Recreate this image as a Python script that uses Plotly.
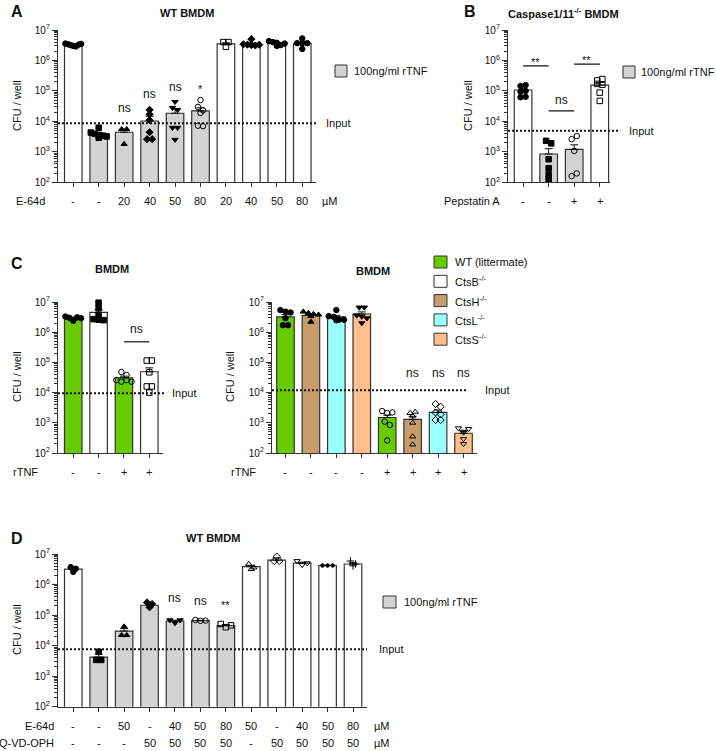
import numpy as np
import plotly.graph_objects as go

W, H = 716, 751
FONT = "Liberation Sans, Arial, sans-serif"
GREY, WHITE = "#D3D3D3", "#FFFFFF"
GREEN, BROWN, CYAN, ORANGE = "#66CC00", "#C69C6D", "#99FFFF", "#FFBE8C"
EDGE = "#333333"
INK = "#111111"

# ---------------- data ----------------
# Panel A  (WT BMDM, E-64d)
A_e64 = ["-", "-", "20", "40", "50", "80", "20", "40", "50", "80"]
A_tnf = [False, True, True, True, True, True, False, False, False, False]
A_mean = [3.3e6, 3.85e3, 4.4e3, 1.03e4, 1.85e4, 2.2e4, 3.5e6, 3.5e6, 3.7e6, 3.6e6]
A_sem = [2e5, 4.5e2, 1.2e3, 4.5e3, 7e3, 6e3, 3e5, 2.5e5, 2e5, 5e5]
A_points = [
    [3.6e6, 3.4e6, 3.2e6, 3.0e6, 2.9e6, 3.3e6, 3.5e6],
    [6.2e3, 4.3e3, 3.9e3, 3.6e3, 3.4e3, 3.2e3, 2.9e3],
    [5.5e3, 5.5e3, 1.8e3],
    [2.4e4, 1.7e4, 1.1e4, 4.4e3, 2.6e3, 2.6e3],
    [4.4e4, 2.8e4, 2.4e4, 6.2e3, 6.2e3, 2.5e3],
    [5.0e4, 3.0e4, 2.3e4, 1.9e4, 7.2e3, 7.0e3],
    [4.0e6, 4.0e6, 2.8e6],
    [5.0e6, 3.4e6, 3.3e6, 3.2e6, 3.1e6, 3.3e6],
    [4.3e6, 4.0e6, 3.8e6, 3.2e6, 3.0e6, 3.6e6],
    [5.3e6, 3.7e6, 3.7e6, 3.7e6, 2.4e6],
]
A_sym = ["circle", "square", "triangle-up", "diamond", "triangle-down",
         "circle-open", "square-open", "diamond", "circle", "circle"]
A_input = 8.7e3
A_sig = {2: ("ns", 2.65e4), 3: ("ns", 7.8e4), 4: ("ns", 1.3e5), 5: ("*", 1.15e5)}

# Panel B  (Caspase1/11-/- BMDM, Pepstatin A)
B_pep = ["-", "-", "+", "+"]
B_tnf = [False, True, True, False]
B_mean = [1.07e5, 8.5e2, 1.2e3, 1.55e5]
B_sem = [1.5e4, 4.2e2, 5.0e2, 3.5e4]
B_points = [
    [1.45e5, 1.55e5, 9.4e4, 1.0e5, 6.2e4, 6.4e4],
    [2.3e3, 1.9e3, 5.7e2, 2.9e2, 1.8e2, 1.25e2],
    [2.6e3, 3.3e3, 1.07e3, 1.6e2, 1.96e2],
    [2.2e5, 2.45e5, 1.7e5, 1.6e5, 8.8e4, 4.7e4],
]
B_sym = ["circle", "square", "circle-open", "square-open"]
B_input = 4.9e3
# (bar from, bar to, line level, label, label level)
B_sig = [(0, 1, 6.6e5, "**", 8.9e5), (1, 2, 2.2e4, "ns", 4.9e4), (2, 3, 7.6e5, "**", 1.04e6)]

# Panel C left  (WT vs CtsB-/-)
C1_tnf = ["-", "-", "+", "+"]
C1_geno = ["WT", "CtsB", "WT", "CtsB"]
C1_mean = [2.8e6, 4.5e6, 3.1e4, 4.9e4]
C1_sem = [2.5e5, 1.1e6, 4e3, 1.7e4]
C1_points = [
    [3.3e6, 3.0e6, 2.6e6, 2.4e6, 3.1e6, 2.9e6],
    [9.5e6, 6.2e6, 3.7e6, 2.7e6, 2.6e6, 2.5e6],
    [4.8e4, 3.8e4, 2.6e4, 2.3e4, 2.6e4, 2.3e4],
    [1.15e5, 1.15e5, 4.7e4, 1.6e4, 1.6e4, 1.0e4],
]
C1_sym = ["circle", "square", "circle-open", "square-open"]
C1_input = 9.5e3
C1_sig = [(2, 3, 4.8e5, "ns", 1.23e6)]

# Panel C right  (WT, CtsH, CtsL, CtsS)
C2_tnf = ["-", "-", "-", "-", "+", "+", "+", "+"]
C2_geno = ["WT", "CtsH", "CtsL", "CtsS", "WT", "CtsH", "CtsL", "CtsS"]
C2_mean = [3.2e6, 3.6e6, 3.2e6, 4.0e6, 1.5e3, 1.3e3, 2.2e3, 4.5e2]
C2_sem = [6e5, 3e5, 4e5, 7e5, 3e2, 3.5e2, 4.5e2, 8e1]
C2_points = [
    [5.4e6, 4.8e6, 4.5e6, 2.9e6, 1.7e6, 1.7e6],
    [4.8e6, 4.3e6, 4.0e6, 3.8e6, 3.4e6, 2.2e6],
    [5.4e6, 3.4e6, 3.2e6, 2.6e6, 2.5e6, 2.6e6],
    [6.6e6, 6.6e6, 3.6e6, 3.3e6, 2.9e6, 2.0e6],
    [2.45e3, 2.1e3, 2.2e3, 1.1e3, 8.5e2, 2.6e2],
    [2.1e3, 1.7e3, 2.3e3, 1.0e3, 3.5e2, 1.9e2],
    [4.2e3, 3.4e3, 2.2e3, 1.9e3, 1.24e3, 1.24e3],
    [6.6e2, 5.1e2, 4.8e2, 6.3e2, 2.9e2, 2.0e2],
]
C2_sym = ["circle", "triangle-up", "circle", "triangle-down",
          "circle-open", "triangle-up-open", "diamond-open", "triangle-down-open"]
C2_input = 1.2e4
C2_sig = {5: ("ns", 4.6e4), 6: ("ns", 4.6e4), 7: ("ns", 4.6e4)}

C_legend = ["WT (littermate)", "CtsB<sup>-/-</sup>", "CtsH<sup>-/-</sup>",
            "CtsL<sup>-/-</sup>", "CtsS<sup>-/-</sup>"]
GENO_COLOR = {"WT": GREEN, "CtsB": WHITE, "CtsH": BROWN, "CtsL": CYAN, "CtsS": ORANGE}

# Panel D  (WT BMDM, E-64d + Q-VD-OPH)
D_e64 = ["-", "-", "50", "-", "40", "50", "80", "50", "-", "40", "50", "80"]
D_qvd = ["-", "-", "-", "50", "50", "50", "50", "-", "50", "50", "50", "50"]
D_tnf = [False, True, True, True, True, True, True, False, False, False, False, False]
D_mean = [3.2e6, 4.2e3, 3.0e4, 2.1e5, 6.4e4, 6.6e4, 4.5e4, 3.85e6, 6.3e6, 5.0e6, 4.2e6, 4.7e6]
D_sem = [3e5, 1.0e3, 6e3, 2.5e4, 4e3, 1.5e3, 4e3, 4e5, 1.2e6, 4e5, 1e5, 5e5]
D_points = [
    [3.7e6, 2.6e6, 3.3e6],
    [6.3e3, 3.4e3, 3.4e3],
    [4.2e4, 2.2e4, 2.2e4],
    [2.6e5, 2.3e5, 1.8e5],
    [6.8e4, 5.5e4, 6.8e4],
    [6.9e4, 6.5e4, 6.6e4],
    [5.1e4, 4.0e4, 4.6e4],
    [4.7e6, 3.2e6, 3.6e6],
    [8.2e6, 5.9e6, 5.9e6],
    [5.9e6, 4.4e6, 5.0e6],
    [4.2e6, 4.2e6, 4.2e6],
    [5.9e6, 4.1e6, 4.7e6],
]
D_sym = ["circle", "square", "triangle-up", "diamond", "triangle-down", "circle-open",
         "square-open", "triangle-up-open", "diamond-open", "triangle-down-open",
         "circle", "cross-thin-open"]
D_input = 7.6e3
D_sig = {4: ("ns", 3.5e5), 5: ("ns", 2.9e5), 6: ("**", 2.1e5)}

Y_TICKS = [1e2, 1e3, 1e4, 1e5, 1e6, 1e7]
Y_TICKTEXT = ["10<sup>%d</sup>" % k for k in range(2, 8)]


# ---------------- helpers ----------------
def px(x):
    return x / W


def py(y):
    return 1 - y / H


def swarm(vals, tol=0.13, step=0.2, maxspread=0.62):
    """deterministic beeswarm-like horizontal offsets"""
    lv = np.log10(vals)
    order = np.argsort(-lv)
    rows = []
    for i in order:
        if rows and abs(lv[i] - lv[rows[-1][0]]) < tol:
            rows[-1].append(i)
        else:
            rows.append([i])
    offs = np.zeros(len(vals))
    for r in rows:
        k = len(r)
        s = step if k == 1 else min(step, maxspread / (k - 1))
        for j, i in enumerate(sorted(r)):
            offs[i] = (j - (k - 1) / 2) * s
    return offs


fig = go.Figure()
annotations = []
shapes = []


def add_panel(ax, means, sems, points, symbols, colors):
    xa, ya = ("x" + ax, "y" + ax)
    n = len(means)
    xs = list(range(n))
    fig.add_trace(go.Bar(
        x=xs, y=means, width=0.69, xaxis=xa, yaxis=ya, showlegend=False, hoverinfo="skip",
        marker=dict(color=colors, line=dict(color=EDGE, width=1.2)),
        error_y=dict(type="data", array=sems, arrayminus=[0] * n, symmetric=False,
                     color=INK, thickness=1, width=4)))
    for i, (vals, sym) in enumerate(zip(points, symbols)):
        offs = swarm(vals)
        small = sym == "circle" and ax == "5" and i == 10
        fig.add_trace(go.Scatter(
            x=[i + o for o in offs], y=vals, mode="markers", xaxis=xa, yaxis=ya,
            showlegend=False, hoverinfo="skip", cliponaxis=False,
            marker=dict(symbol=sym, size=3.5 if small else 5.5, color="black",
                        line=dict(color="black", width=1))))


def axes(ax, xdom, ydom, n, xr):
    xs = "xaxis" + ax
    ys = "yaxis" + ax
    lay = {}
    lay[xs] = dict(domain=[px(xdom[0]), px(xdom[1])], range=xr, anchor="y" + ax,
                   automargin=False,
                   showline=True, linecolor=EDGE, linewidth=1.3, ticks="outside",
                   ticklen=4, tickwidth=1.2, tickcolor=EDGE, tickvals=list(range(n)),
                   showticklabels=False, showgrid=False, zeroline=False, fixedrange=True)
    minor_vals = [m * 10 ** k for k in range(2, 7) for m in range(2, 10)]
    lay[ys] = dict(domain=[py(ydom[1]), py(ydom[0])], type="log", range=[2, 7],
                   anchor="x" + ax, automargin=False,
                   showline=True, linecolor=EDGE, linewidth=1.3,
                   ticks="outside", ticklen=5, tickwidth=1.2, tickcolor=EDGE,
                   tickvals=Y_TICKS, ticktext=Y_TICKTEXT,
                   tickfont=dict(size=10, color=INK, family=FONT),
                   minor=dict(ticks="outside", ticklen=2.5, tickwidth=0.8,
                              tickcolor=EDGE, tickvals=minor_vals),
                   showgrid=False, zeroline=False, fixedrange=True)
    return lay


def text(x, y, s, size=11, bold=False, xanchor="center", xref="paper", yref="paper",
         angle=0, yanchor="middle"):
    if bold:
        s = "<b>%s</b>" % s
    annotations.append(dict(x=x, y=y, xref=xref, yref=yref, text=s, showarrow=False,
                            xanchor=xanchor, yanchor=yanchor, textangle=angle,
                            font=dict(size=size, color=INK, family=FONT)))


def input_line(ax, val, x1frac, label_x):
    shapes.append(dict(type="line", xref="x%s domain" % ax, yref="y" + ax,
                       x0=0, x1=x1frac, y0=val, y1=val,
                       line=dict(color=INK, width=2, dash="2px,2px")))
    text(px(label_x), np.log10(val), "Input", xanchor="left", yref="y" + ax)


def sig_lines(ax, sigs):
    for a, b, lv, lab, tv in sigs:
        shapes.append(dict(type="line", xref="x" + ax, yref="y" + ax, x0=a, x1=b,
                           y0=lv, y1=lv, line=dict(color=INK, width=1.2)))
        text((a + b) / 2, np.log10(tv), lab, size=12 if lab == "ns" else 11,
             xref="x" + ax, yref="y" + ax)


def legend_box(x0, x1, yc, color, label, tx):
    shapes.append(dict(type="rect", xref="paper", yref="paper",
                       x0=px(x0), x1=px(x1), y0=py(yc + 6), y1=py(yc - 6),
                       fillcolor=color, line=dict(color=EDGE, width=1)))
    text(px(tx), py(yc), label, xanchor="left")


layout = {}

# ---- Panel A ----
add_panel("", A_mean, A_sem, A_points, A_sym, [GREY if t else WHITE for t in A_tnf])
layout.update(axes("", (58, 316), (30, 182.3), len(A_mean), [-0.6, 9.54]))
input_line("", A_input, 1.0, 324)
for i, (lab, tv) in A_sig.items():
    text(i, np.log10(tv), lab, size=12 if lab == "ns" else 11, xref="x", yref="y")
for i, s in enumerate(A_e64):
    text(i, py(201), s, xref="x")
text(px(47), py(201), "E-64d", xanchor="right")
text(px(330), py(201), "µM")
text(px(187), py(13), "WT BMDM", bold=True)
text(px(17), py(11), "A", size=16, bold=True)
text(px(17), py(106), "CFU / well", angle=-90)
legend_box(335, 347, 71, GREY, "100ng/ml rTNF", 352)

# ---- Panel B ----
add_panel("2", B_mean, B_sem, B_points, B_sym, [GREY if t else WHITE for t in B_tnf])
layout.update(axes("2", (508, 610), (30, 182.3), len(B_mean), [-0.59, 3.4]))
input_line("2", B_input, 1.1, 627)
sig_lines("2", B_sig)
for i, s in enumerate(B_pep):
    text(i, py(201), s, xref="x2")
text(px(502), py(201), "Pepstatin A", xanchor="right")
text(px(563), py(13), "Caspase1/11<sup>-/-</sup> BMDM", bold=True)
text(px(470), py(11), "B", size=16, bold=True)
text(px(468), py(106), "CFU / well", angle=-90)
legend_box(623, 635, 72, GREY, "100ng/ml rTNF", 639)

# ---- Panel C left ----
add_panel("3", C1_mean, C1_sem, C1_points, C1_sym, [GENO_COLOR[g] for g in C1_geno])
layout.update(axes("3", (58, 163), (302, 453), len(C1_mean), [-0.6, 3.54]))
input_line("3", C1_input, 1.03, 170)
sig_lines("3", C1_sig)
for i, s in enumerate(C1_tnf):
    text(i, py(472), s, xref="x3")
text(px(40), py(472), "rTNF", xanchor="right")
text(px(112), py(269), "BMDM", bold=True)
text(px(17), py(263), "C", size=16, bold=True)
text(px(17), py(377), "CFU / well", angle=-90)

# ---- Panel C right ----
add_panel("4", C2_mean, C2_sem, C2_points, C2_sym, [GENO_COLOR[g] for g in C2_geno])
layout.update(axes("4", (272, 477), (302, 453), len(C2_mean), [-0.53, 7.53]))
input_line("4", C2_input, 0.95, 483)
for i, (lab, tv) in C2_sig.items():
    text(i, np.log10(tv), lab, size=12, xref="x4", yref="y4")
for i, s in enumerate(C2_tnf):
    text(i, py(472), s, xref="x4")
text(px(258), py(472), "rTNF", xanchor="right")
text(px(373), py(271), "BMDM", bold=True)
text(px(230), py(377), "CFU / well", angle=-90)
for k, (lab, g) in enumerate(zip(C_legend, ["WT", "CtsB", "CtsH", "CtsL", "CtsS"])):
    legend_box(434, 447, 262 + 19.3 * k, GENO_COLOR[g], lab, 453)

# ---- Panel D ----
add_panel("5", D_mean, D_sem, D_points, D_sym, [GREY if t else WHITE for t in D_tnf])
layout.update(axes("5", (58, 367), (554, 706.7), len(D_mean), [-0.6, 11.55]))
input_line("5", D_input, 1.0, 377)
for i, (lab, tv) in D_sig.items():
    text(i, np.log10(tv), lab, size=12 if lab == "ns" else 11, xref="x5", yref="y5")
for i, (a, b) in enumerate(zip(D_e64, D_qvd)):
    text(i, py(726), a, xref="x5")
    text(i, py(743), b, xref="x5")
text(px(56), py(726), "E-64d", xanchor="right")
text(px(56), py(743), "Q-VD-OPH", xanchor="right")
text(px(382), py(726), "µM")
text(px(382), py(743), "µM")
text(px(213), py(538), "WT BMDM", bold=True)
text(px(17), py(538), "D", size=16, bold=True)
text(px(17), py(630), "CFU / well", angle=-90)
legend_box(383, 396, 602, GREY, "100ng/ml rTNF", 402)

fig.update_layout(
    width=W, height=H, margin=dict(l=0, r=0, t=0, b=0, autoexpand=False),
    paper_bgcolor="white", plot_bgcolor="white",
    font=dict(family=FONT, size=11, color=INK),
    barmode="overlay", showlegend=False,
    annotations=annotations, shapes=shapes, **layout)

# the page's default 8px body margin would shift the figure; remove it
fig.write_html("out.html", config={"displayModeBar": False},
               post_script="document.body.style.margin='0';document.body.style.overflow='hidden';")
